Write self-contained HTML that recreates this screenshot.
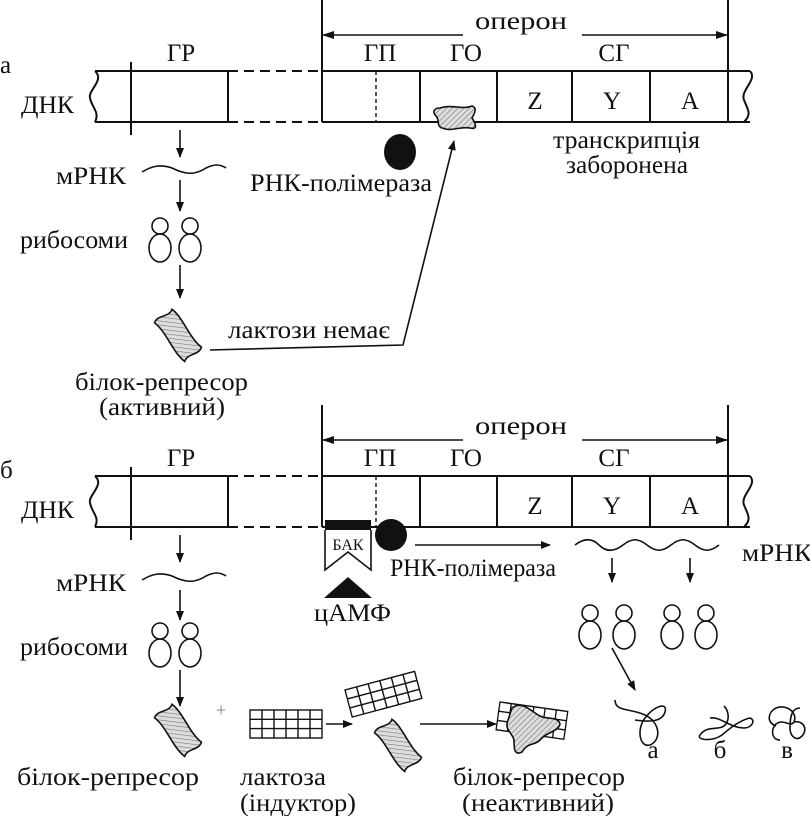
<!DOCTYPE html>
<html><head><meta charset="utf-8"><style>
html,body{margin:0;padding:0;background:#fff;}
svg{display:block;}
text{font-family:"Liberation Serif","DejaVu Serif",serif;font-size:25px;fill:#111;}
</style></head><body>
<svg width="810" height="816" viewBox="0 0 810 816" xmlns="http://www.w3.org/2000/svg">
<defs>
<marker id="ar" markerWidth="10" markerHeight="8" refX="9" refY="4" orient="auto" markerUnits="userSpaceOnUse">
<path d="M0,0 L10,4 L0,8 Z" fill="#111"/></marker>
<pattern id="hat" width="4" height="4" patternUnits="userSpaceOnUse" patternTransform="rotate(45)">
<rect width="4" height="4" fill="#ddd"/><line x1="0" y1="0" x2="0" y2="4" stroke="#777" stroke-width="1.2"/></pattern>
<g id="rib"><circle cx="0" cy="-12" r="8" fill="none" stroke="#111" stroke-width="1.6"/><ellipse cx="0" cy="10" rx="11" ry="14" fill="none" stroke="#111" stroke-width="1.6"/></g>
<path id="rep" transform="rotate(52)" d="M-24,-11 C-12,-15 10,-7 24,-11 C29,-4 20,4 25,11 C11,15 -10,7 -24,11 C-29,4 -19,-4 -24,-11 Z" fill="url(#hat)" stroke="#111" stroke-width="1.6"/>
<g id="lat" stroke="#111" stroke-width="1.4" fill="#fff">
<rect x="0" y="0" width="72" height="28"/>
<line x1="12" y1="0" x2="12" y2="28"/><line x1="24" y1="0" x2="24" y2="28"/><line x1="36" y1="0" x2="36" y2="28"/><line x1="48" y1="0" x2="48" y2="28"/><line x1="60" y1="0" x2="60" y2="28"/>
<line x1="0" y1="9.3" x2="72" y2="9.3"/><line x1="0" y1="18.6" x2="72" y2="18.6"/></g>
<g id="dna" stroke="#111" stroke-width="2" fill="none">
<path d="M95,71 H228 M322,71 H750 M95,122 H228 M322,122 H750"/>
<path d="M228,71 H322 M228,122 H322" stroke-dasharray="10,6"/>
<path d="M95,71 C105,80 88,90 90,98 C92,108 100,112 95,122"/>
<path d="M750,71 C758,80 740,90 744,100 C748,110 752,114 744,122"/>
<line x1="131" y1="62" x2="131" y2="135"/>
<line x1="228" y1="71" x2="228" y2="122"/>
<line x1="322" y1="0" x2="322" y2="122"/>
<line x1="376" y1="71" x2="376" y2="122" stroke-dasharray="4,3" stroke-width="1.4"/>
<line x1="420" y1="71" x2="420" y2="122"/>
<line x1="497" y1="71" x2="497" y2="122"/>
<line x1="572" y1="71" x2="572" y2="122"/>
<line x1="650" y1="71" x2="650" y2="122"/>
<line x1="728" y1="0" x2="728" y2="122"/>
<line x1="322" y1="35" x2="463" y2="35" stroke-width="1.6"/>
<line x1="582" y1="35" x2="728" y2="35" stroke-width="1.6"/>
</g>
</defs>

<!-- Panel a -->
<use href="#dna"/>
<path d="M322,35 l12,-4 v8 z M728,35 l-12,-4 v8 z" fill="#111"/>
<text x="475" y="29" textLength="92" lengthAdjust="spacingAndGlyphs">оперон</text>
<text x="0" y="73">а</text>
<text x="181" y="61" text-anchor="middle">ГР</text>
<text x="380" y="61" text-anchor="middle">ГП</text>
<text x="466" y="61" text-anchor="middle">ГО</text>
<text x="614" y="61" text-anchor="middle">СГ</text>
<text x="21" y="113" textLength="53" lengthAdjust="spacingAndGlyphs">ДНК</text>
<text x="535" y="109" text-anchor="middle">Z</text>
<text x="612" y="109" text-anchor="middle">Y</text>
<text x="690" y="109" text-anchor="middle">A</text>
<path d="M440,108 C452,104 462,110 472,106 C478,108 474,114 472,118 C476,124 478,130 470,128 C460,126 452,132 442,128 C436,126 440,120 436,116 C432,112 434,108 440,108 Z" fill="url(#hat)" stroke="#111" stroke-width="1.6"/>
<ellipse cx="400" cy="152" rx="16" ry="18" fill="#111"/>
<text x="250" y="191" textLength="182" lengthAdjust="spacingAndGlyphs">РНК-полімераза</text>
<text x="553" y="148" textLength="147" lengthAdjust="spacingAndGlyphs">транскрипція</text>
<text x="566" y="173" textLength="122" lengthAdjust="spacingAndGlyphs">заборонена</text>
<g stroke="#111" stroke-width="1.6" fill="none">
<line x1="180" y1="130" x2="180" y2="157" marker-end="url(#ar)"/>
<path d="M142,172 C152,166 160,164 172,168 C184,174 194,176 206,168 C214,164 220,164 226,168"/>
<line x1="180" y1="180" x2="180" y2="211" marker-end="url(#ar)"/>
<line x1="180" y1="265" x2="180" y2="298" marker-end="url(#ar)"/>
<path d="M210,350 L403,345 L454,141" marker-end="url(#ar)"/>
</g>
<text x="56" y="184" textLength="70" lengthAdjust="spacingAndGlyphs">мРНК</text>
<use href="#rib" x="160" y="238"/><use href="#rib" x="190" y="238"/>
<text x="20" y="248" textLength="108" lengthAdjust="spacingAndGlyphs">рибосоми</text>
<use href="#rep" x="178" y="335"/>
<text x="228" y="338" textLength="162" lengthAdjust="spacingAndGlyphs">лактози немає</text>
<text x="75" y="390" textLength="173" lengthAdjust="spacingAndGlyphs">білок-репресор</text>
<text x="99" y="415" textLength="126" lengthAdjust="spacingAndGlyphs">(активний)</text>

<!-- Panel b -->
<g transform="translate(0,405)"><use href="#dna"/>
<path d="M322,35 l12,-4 v8 z M728,35 l-12,-4 v8 z" fill="#111"/></g>
<text x="475" y="434" textLength="92" lengthAdjust="spacingAndGlyphs">оперон</text>
<text x="0" y="478">б</text>
<text x="181" y="466" text-anchor="middle">ГР</text>
<text x="380" y="466" text-anchor="middle">ГП</text>
<text x="466" y="466" text-anchor="middle">ГО</text>
<text x="614" y="466" text-anchor="middle">СГ</text>
<text x="21" y="518" textLength="53" lengthAdjust="spacingAndGlyphs">ДНК</text>
<text x="535" y="514" text-anchor="middle">Z</text>
<text x="612" y="514" text-anchor="middle">Y</text>
<text x="690" y="514" text-anchor="middle">A</text>
<rect x="325" y="520" width="46" height="10" fill="#111"/>
<path d="M325,530 V570 L348,552 L371,570 V530" fill="#fff" stroke="#111" stroke-width="1.6"/>
<text x="348" y="550" text-anchor="middle" style="font-size:16px">БАК</text>
<path d="M324,598 L348,577 L372,598 Z" fill="#111"/>
<text x="314" y="621" textLength="77" lengthAdjust="spacingAndGlyphs">цАМФ</text>
<circle cx="391" cy="535" r="16" fill="#111"/>
<g stroke="#111" stroke-width="1.6" fill="none">
<line x1="415" y1="545" x2="550" y2="545" marker-end="url(#ar)"/>
<path d="M575,545 c9,-7 17,-7 24,0 s15,7 24,0 s15,-7 24,0 s15,7 24,0 s15,-7 24,0 s15,7 24,0"/>
<line x1="612" y1="558" x2="612" y2="582" marker-end="url(#ar)"/>
<line x1="690" y1="558" x2="690" y2="582" marker-end="url(#ar)"/>
<line x1="612" y1="648" x2="635" y2="690" marker-end="url(#ar)"/>
<line x1="180" y1="535" x2="180" y2="562" marker-end="url(#ar)"/>
<path d="M142,580 C152,574 160,572 172,576 C184,582 194,584 206,576 C214,572 220,572 226,576"/>
<line x1="180" y1="590" x2="180" y2="620" marker-end="url(#ar)"/>
<line x1="180" y1="670" x2="180" y2="706" marker-end="url(#ar)"/>
<line x1="326" y1="724" x2="352" y2="724" marker-end="url(#ar)"/>
<line x1="420" y1="724" x2="496" y2="724" marker-end="url(#ar)"/>
<path d="M615,700 C615,712 630,708 645,715 C660,722 662,740 650,745 C640,748 636,730 645,718 C655,705 668,702 665,712 C662,722 650,722 635,720"/>
<path d="M700,735 C708,724 720,732 726,724 C730,718 728,710 724,706 M700,735 C696,740 712,742 722,735 C730,728 740,720 750,718 C756,720 752,728 744,728 C730,728 720,716 710,718"/>
<path d="M780,740 C772,740 770,730 776,724 C784,718 790,728 794,722 C798,712 786,704 776,708 C768,712 766,722 776,726 M794,722 C804,720 808,730 802,736 C796,742 790,736 790,728 C790,716 792,708 800,708"/>
</g>
<text x="742" y="561" textLength="70" lengthAdjust="spacingAndGlyphs">мРНК</text>
<text x="390" y="576" textLength="166" lengthAdjust="spacingAndGlyphs">РНК-полімераза</text>
<use href="#rib" x="590" y="625"/><use href="#rib" x="624" y="625"/>
<use href="#rib" x="672" y="625"/><use href="#rib" x="706" y="625"/>
<text x="653" y="758" text-anchor="middle">а</text>
<text x="720" y="758" text-anchor="middle">б</text>
<text x="787" y="758" text-anchor="middle">в</text>
<text x="56" y="591" textLength="70" lengthAdjust="spacingAndGlyphs">мРНК</text>
<use href="#rib" x="160" y="643"/><use href="#rib" x="190" y="643"/>
<text x="20" y="655" textLength="108" lengthAdjust="spacingAndGlyphs">рибосоми</text>
<use href="#rep" x="178" y="730"/>
<text x="216" y="716" style="font-size:18px;fill:#777">+</text>
<use href="#lat" x="250" y="710"/>
<use href="#lat" transform="translate(345,690) rotate(-15)"/>
<use href="#rep" x="398" y="745"/>
<use href="#lat" transform="translate(500,702) rotate(8) scale(0.95,1)"/>
<path d="M512,708 C522,700 532,712 540,716 C548,720 558,716 560,724 C558,732 546,732 540,740 C534,746 528,742 522,752 C514,756 514,748 514,740 C512,732 504,730 508,720 Z" fill="url(#hat)" stroke="#111" stroke-width="1.6"/>
<text x="17" y="785" textLength="182" lengthAdjust="spacingAndGlyphs">білок-репресор</text>
<text x="240" y="785" textLength="86" lengthAdjust="spacingAndGlyphs">лактоза</text>
<text x="240" y="811" textLength="116" lengthAdjust="spacingAndGlyphs">(індуктор)</text>
<text x="453" y="785" textLength="172" lengthAdjust="spacingAndGlyphs">білок-репресор</text>
<text x="462" y="811" textLength="152" lengthAdjust="spacingAndGlyphs">(неактивний)</text>
</svg>
</body></html>
